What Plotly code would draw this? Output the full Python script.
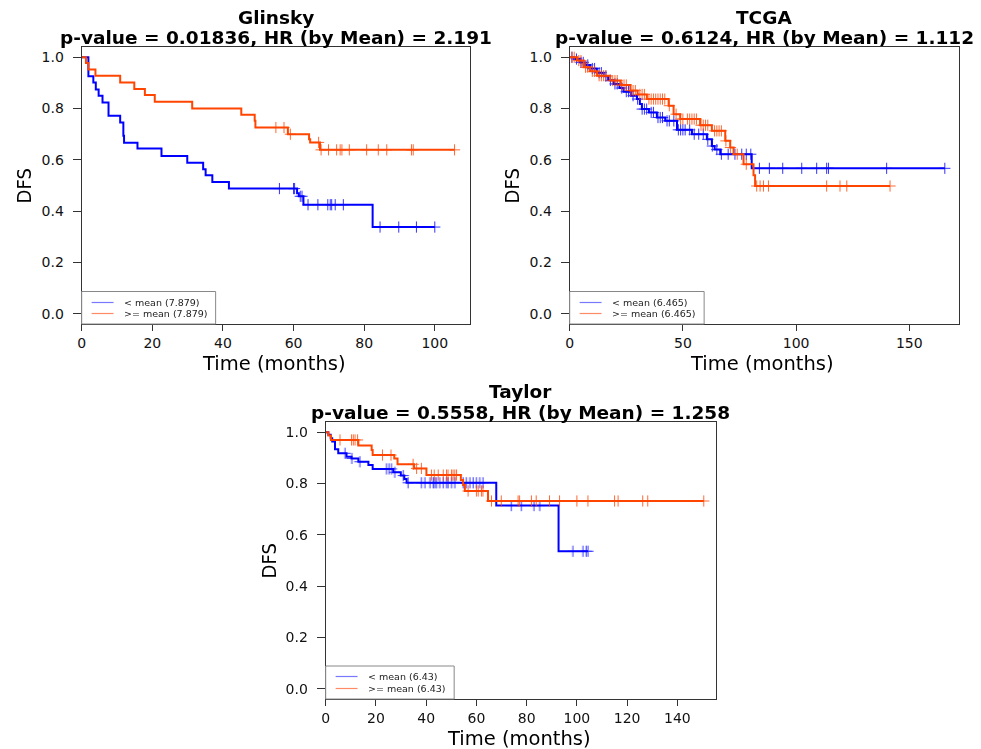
import plotly.graph_objects as go

W, H = 981, 749

# ---------------- DATA ----------------
# Glinsky
gl_lo_t = [0, 1.9, 3.3, 4.0, 4.8, 5.9, 7.6, 10.9, 11.8, 12.0, 15.8, 22.6, 29.9, 34.4, 35.1, 37.0, 41.7, 61.0, 61.5, 62.8, 82.4]
gl_lo_s = [1.0, 0.926, 0.902, 0.874, 0.85, 0.824, 0.772, 0.746, 0.694, 0.667, 0.644, 0.615, 0.589, 0.563, 0.54, 0.514, 0.488, 0.47, 0.458, 0.425, 0.338]
gl_lo_c = [56, 60, 60.3, 61.9, 62.4, 64.1, 66.9, 69.7, 70.4, 70.8, 71.8, 74.1, 84.5, 89.8, 94.8, 100.0]
gl_hi_t = [0, 1.2, 1.9, 3.9, 10.9, 14.9, 17.9, 20.7, 31.3, 45.2, 49.0, 49.2, 58.4, 64.4, 64.7, 67.5]
gl_hi_s = [1.0, 0.978, 0.952, 0.928, 0.902, 0.876, 0.853, 0.827, 0.80, 0.776, 0.752, 0.726, 0.70, 0.68, 0.668, 0.639]
gl_hi_c = [55, 57.3, 59.1, 67.1, 67.8, 69.9, 72.2, 73.2, 73.7, 75.8, 80.7, 84, 86.4, 93.4, 93.9, 105.6]

# TCGA
tc_lo_t = [0, 2, 4.7, 7, 9.1, 12, 15, 17, 19.4, 22, 23.8, 27, 29.7, 31, 31.9, 35, 38.5, 42.2, 47.4, 54, 60.6, 62.8, 64, 66.5, 80.4]
tc_lo_s = [1.0, 0.993, 0.98, 0.97, 0.956, 0.94, 0.926, 0.91, 0.896, 0.88, 0.866, 0.85, 0.837, 0.818, 0.798, 0.785, 0.765, 0.752, 0.717, 0.70, 0.68, 0.654, 0.64, 0.622, 0.567]
tc_lo_c = [1, 3, 5, 6, 8, 10, 11, 13, 14, 16, 18, 20, 21, 23, 25, 26, 28, 30, 32, 33, 34, 36, 37, 39, 40, 41, 43, 44, 46, 48, 49, 50, 51, 53, 55, 57, 59, 61, 63, 65, 67, 70, 73, 76, 78, 80,
           83.8, 88.2, 94.1, 102.5, 109.1, 113.5, 114.3, 140, 165.7]
tc_hi_t = [0, 3.2, 6.2, 9, 12.1, 17.9, 22.4, 26.8, 30, 34.1, 43.7, 45.9, 48.8, 57.6, 62.8, 68.7, 70.9, 72.4, 76.8, 81.2, 81.9]
tc_hi_s = [1.0, 0.987, 0.961, 0.945, 0.928, 0.909, 0.892, 0.87, 0.855, 0.837, 0.811, 0.778, 0.759, 0.735, 0.713, 0.674, 0.648, 0.622, 0.583, 0.54, 0.498]
tc_hi_c = [1, 2, 4, 5, 7, 8, 10, 11, 13, 14, 15, 16, 19, 20, 21, 23, 24, 25, 27, 28, 29, 31, 32, 33, 35, 36, 37, 38, 39, 40, 41, 42, 44, 47, 49, 50, 52, 53, 54, 55, 56, 58, 59, 60, 61, 64, 65, 66, 67, 69, 71, 74, 78,
           82.6, 84.1, 85.6, 87.8, 113.5, 119.4, 122.4, 141.5]

# Taylor
ta_lo_t = [0, 1.06, 2.0, 2.6, 3.7, 5.0, 8.3, 10.3, 13.0, 17.0, 18.7, 26.9, 29.9, 31.3, 32.2, 67.9, 92.7]
ta_lo_s = [1.0, 0.99, 0.977, 0.964, 0.934, 0.918, 0.905, 0.898, 0.885, 0.872, 0.857, 0.844, 0.831, 0.818, 0.803, 0.714, 0.536]
ta_lo_c = [7.7, 10.4, 13.6, 24.2, 25.2, 26.2, 27.5, 30.9, 32.8, 38.1, 39.5, 41.5, 42.8, 43.4, 44.1, 45.4, 46.8, 48.1, 48.7, 50.1, 51.4,
           54.7, 56, 57.4, 58.7, 60, 61.3, 62.6, 73.9, 77.9, 82.9, 85.2, 98.4, 102.4, 103.7, 104.4]
ta_hi_t = [0, 1.06, 2.1, 13.0, 18.3, 18.7, 27.3, 28.6, 35.2, 40.1, 53.8, 54.7, 55.4, 64.6]
ta_hi_s = [1.0, 0.987, 0.97, 0.948, 0.931, 0.911, 0.898, 0.875, 0.859, 0.833, 0.814, 0.794, 0.771, 0.732]
ta_hi_c = [5.7, 10.3, 11.0, 11.7, 12.7, 22.6, 26.0, 34.8, 36.2, 38.1, 42.1, 43.2, 44.8, 46.8, 48.1, 48.7, 50.1, 50.7, 51.4, 52.1,
           56.7, 60, 60.7, 62, 62.6, 66, 69.9, 76.6, 77.2, 81.9, 83.8, 89.1, 93.1, 100, 104.4, 115, 116.4, 126.2, 128.2, 150.5]

panels = [
    dict(name="Glinsky", sub="p-value = 0.01836, HR (by Mean) = 2.191", cut="7.879",
         lo=(gl_lo_t, gl_lo_s, gl_lo_c), hi=(gl_hi_t, gl_hi_s, gl_hi_c),
         xmax=110.0, xticks=[0, 20, 40, 60, 80, 100], box=(78, 468, 47, 324), leg=(78, 212.5, 291.5)),
    dict(name="TCGA", sub="p-value = 0.6124, HR (by Mean) = 1.112", cut="6.465",
         lo=(tc_lo_t, tc_lo_s, tc_lo_c), hi=(tc_hi_t, tc_hi_s, tc_hi_c),
         xmax=172.0, xticks=[0, 50, 100, 150], box=(568, 959, 47, 324), leg=(568, 703, 291.5)),
    dict(name="Taylor", sub="p-value = 0.5558, HR (by Mean) = 1.258", cut="6.43",
         lo=(ta_lo_t, ta_lo_s, ta_lo_c), hi=(ta_hi_t, ta_hi_s, ta_hi_c),
         xmax=155.4, xticks=[0, 20, 40, 60, 80, 100, 120, 140], box=(323, 715, 422, 699), leg=(323, 452, 666)),
]

BLUE = "#0000FF"
RED = "#FF4500"
BLUE_L = "#7878FF"
RED_L = "#FF8A66"


def px(x):
    return x / W


def py(y):
    return 1 - y / H


def surv_at(t, times, surv):
    s = surv[0]
    for ti, si in zip(times, surv):
        if ti <= t:
            s = si
    return s


fig = go.Figure()
layout = dict(width=W, height=H, margin=dict(l=0, r=0, t=0, b=0),
              paper_bgcolor="white", plot_bgcolor="white", showlegend=False)
annotations = []
shapes = []
tickfont = dict(family="DejaVu Sans", size=14, color="#111")

for i, p in enumerate(panels):
    k = "" if i == 0 else str(i + 1)
    xa, ya = "x" + k, "y" + k
    x0, x1, y0, y1 = p["box"]
    for grp, col in (("lo", BLUE), ("hi", RED)):
        t, s, c = p[grp]
        tend = max(max(c), t[-1])
        fig.add_trace(go.Scatter(x=t + [tend], y=s + [s[-1]], mode="lines",
                                 line=dict(color=col, width=2, shape="hv"),
                                 xaxis=xa, yaxis=ya, hoverinfo="skip"))
        fig.add_trace(go.Scatter(x=c, y=[surv_at(v, t, s) for v in c], mode="markers",
                                 marker=dict(symbol="cross-thin", size=8, color=col,
                                             line=dict(color=col, width=1)),
                                 opacity=0.8, xaxis=xa, yaxis=ya, hoverinfo="skip"))
    axcommon = dict(showgrid=False, zeroline=False, showline=True, mirror=True,
                    linecolor="#333", linewidth=1, ticks="outside", tickcolor="#333",
                    tickfont=tickfont)
    layout["xaxis" + k] = dict(axcommon, domain=[px(x0), px(x1)], range=[0, p["xmax"]],
                               tickvals=p["xticks"], ticklen=6, anchor=ya, ticklabelstandoff=0)
    layout["yaxis" + k] = dict(axcommon, domain=[py(y1), py(y0)], range=[-0.04, 1.04],
                               tickvals=[0, 0.2, 0.4, 0.6, 0.8, 1.0], tickformat=".1f",
                               ticklen=8, anchor=xa, ticklabelstandoff=6)
    cx = (x0 + x1) / 2
    annotations.append(dict(x=px(cx), y=py(y0 - 30), xref="paper", yref="paper", text="<b>%s</b>" % p["name"],
                            showarrow=False, font=dict(family="DejaVu Sans", size=18.5, color="black"),
                            xanchor="center", yanchor="middle"))
    annotations.append(dict(x=px(cx), y=py(y0 - 10), xref="paper", yref="paper", text="<b>%s</b>" % p["sub"],
                            showarrow=False, font=dict(family="DejaVu Sans", size=18.5, color="black"),
                            xanchor="center", yanchor="middle"))
    annotations.append(dict(x=px(cx - 2), y=py(y1 + 39.5), xref="paper", yref="paper", text="Time (months)",
                            showarrow=False, font=dict(family="DejaVu Sans", size=19.5, color="black"),
                            xanchor="center", yanchor="middle"))
    annotations.append(dict(x=px(x0 - 57), y=py((y0 + y1) / 2), xref="paper", yref="paper", text="DFS",
                            showarrow=False, textangle=-90,
                            font=dict(family="Liberation Sans Narrow, DejaVu Sans Condensed", size=20, color="black"),
                            xanchor="center", yanchor="middle"))
    # legend box
    lx0, lx1, ly0 = p["leg"]
    shapes.append(dict(type="rect", xref="paper", yref="paper", x0=px(lx0), x1=px(lx1), y0=py(y1), y1=py(ly0),
                       line=dict(color="#888", width=1), fillcolor="white", layer="above"))
    for j, (lab, col) in enumerate((("&lt; mean (%s)" % p["cut"], BLUE_L), ("&gt;= mean (%s)" % p["cut"], RED_L))):
        yy = round(ly0 + 10 + j * 11.5) + 0.5
        shapes.append(dict(type="line", xref="paper", yref="paper", x0=px(lx0 + 10), x1=px(lx0 + 32),
                           y0=py(yy), y1=py(yy), line=dict(color=col, width=1.2), layer="above"))
        annotations.append(dict(x=px(lx0 + 40), y=py(yy), xref="paper", yref="paper", text=lab,
                                showarrow=False, font=dict(family="DejaVu Sans", size=9.5, color="#222"),
                                xanchor="left", yanchor="middle"))

layout["annotations"] = annotations
layout["shapes"] = shapes
fig.update_layout(**layout)
fig.write_html("out.html")
